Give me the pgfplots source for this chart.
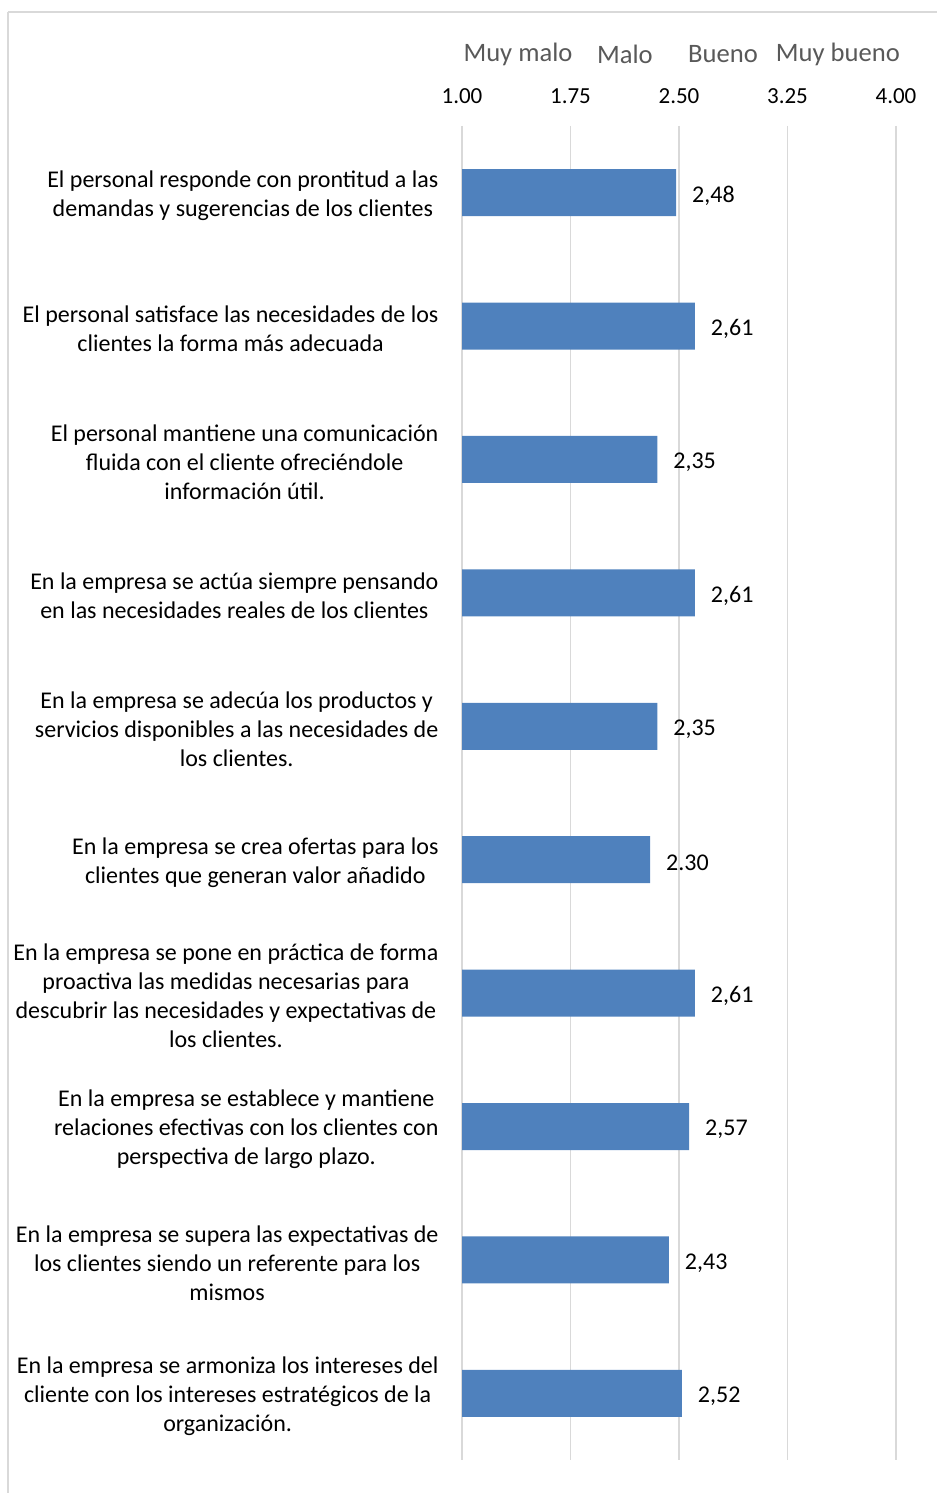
\documentclass[border=0pt]{standalone}
\usepackage{pgfplots}
\pgfplotsset{compat=1.18}
\usepackage{fontspec}
\setmainfont{Carlito}
\definecolor{barblue}{HTML}{4F81BD}
\definecolor{gridgray}{HTML}{D9D9D9}
\definecolor{headgray}{HTML}{595959}
\definecolor{framegray}{HTML}{D9D9D9}
\begin{document}
\begin{tikzpicture}
\path[use as bounding box] (0,0) rectangle (468.5pt,746.5pt);
\draw[framegray, line width=0.6pt] (4pt,740.5pt) -- (468.5pt,740.5pt);
\draw[framegray, line width=0.6pt] (4pt,740.5pt) -- (4pt,0pt);
\begin{axis}[
  at={(231pt,16.5pt)}, anchor=south west,
  scale only axis, width=217pt, height=667pt,
  xbar, bar width=23.5pt,
  xmin=1, xmax=4, ymin=-0.5, ymax=9.5,
  y dir=reverse,
  axis line style={draw=none},
  tick style={draw=none},
  xtick={1,1.75,2.5,3.25,4},
  xticklabels={1.00,1.75,2.50,3.25,4.00},
  xticklabel pos=upper,
  xmajorgrids, grid style={gridgray, line width=0.7pt},
  xticklabel style={font=\fontsize{11.5}{13}\selectfont, text=black, yshift=7.5pt},
  ytick={0,...,9},
  yticklabels={
    {El personal responde con prontitud a las\\demandas y sugerencias de los clientes},
    {El personal satisface las necesidades de los\\clientes la forma más adecuada},
    {El personal mantiene una comunicación\\fluida con el cliente ofreciéndole\\información útil.},
    {En la empresa se actúa siempre pensando\\en las necesidades reales de los clientes},
    {En la empresa se adecúa los productos y\\servicios disponibles a las necesidades de\\los clientes.},
    {En la empresa se crea ofertas para los\\clientes que generan valor añadido},
    {En la empresa se pone en práctica de forma\\proactiva las medidas necesarias para\\descubrir las necesidades y expectativas de\\los clientes.},
    {En la empresa se establece y mantiene\\relaciones efectivas con los clientes con\\perspectiva de largo plazo.},
    {En la empresa se supera las expectativas de\\los clientes siendo un referente para los\\mismos},
    {En la empresa se armoniza los intereses del\\cliente con los intereses estratégicos de la\\organización.}
  },
  yticklabel style={align=center, anchor=east, xshift=-4pt, yshift=-1.5pt,
    font=\fontsize{12}{14.5}\selectfont, text=black},
  nodes near coords, point meta=explicit symbolic,
  every node near coord/.append style={font=\fontsize{12}{13}\selectfont, text=black, anchor=west, xshift=4.5pt, yshift=-1.5pt},
  clip=false,
]
\addplot[fill=barblue, draw=none] table[x=v, y=c, meta=lab] {
c v lab
0 2.48 2,48
1 2.61 2,61
2 2.35 2,35
3 2.61 2,61
4 2.35 2,35
5 2.30 2.30
6 2.61 2,61
7 2.57 2,57
8 2.43 2,43
9 2.52 2,52
};
\node[font=\fontsize{13.3}{15}\selectfont, text=headgray, yshift=36pt] at (axis cs:1.387,-0.5) {Muy malo};
\node[font=\fontsize{13.3}{15}\selectfont, text=headgray, yshift=36pt] at (axis cs:2.126,-0.5) {Malo};
\node[font=\fontsize{13.3}{15}\selectfont, text=headgray, yshift=36pt] at (axis cs:2.804,-0.5) {Bueno};
\node[font=\fontsize{13.3}{15}\selectfont, text=headgray, yshift=36pt] at (axis cs:3.598,-0.5) {Muy bueno};
\end{axis}
\end{tikzpicture}
\end{document}
